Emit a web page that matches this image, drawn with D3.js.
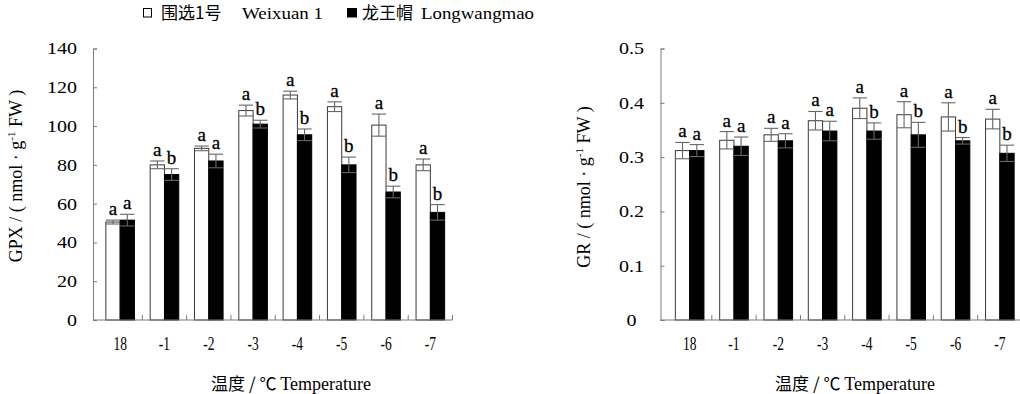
<!DOCTYPE html>
<html>
<head>
<meta charset="utf-8">
<script src="https://cdn.jsdelivr.net/npm/d3@7"></script>
<style>
  html, body { margin: 0; padding: 0; background: #fff; }
  svg { display: block; }
  text { font-family: "Liberation Serif", "Times New Roman", serif; fill: #000; }
  .cjk { font-family: "Noto Sans CJK SC", sans-serif; }
</style>
</head>
<body>
<svg id="chart" width="1020" height="394"></svg>
<script>
// Temperature treatments (°C)
const categories = ["18", "-1", "-2", "-3", "-4", "-5", "-6", "-7"];
const seriesKeys = ["weixuan", "longwangmao"];

// GPX activity, nmol·g-1 FW
const gpxWeixuan        = [50.5, 80, 88.5, 108, 116, 110, 100.5, 80];
const gpxWeixuanErr     = [1, 2, 1.2, 2.8, 2, 2.5, 5.7, 3];
const gpxLongwangmao    = [51.5, 75, 82, 101, 95.5, 80, 66, 55.5];
const gpxLongwangmaoErr = [3, 3, 3.5, 2, 3, 4, 3, 4];
const gpxLettersW = ["a", "a", "a", "a", "a", "a", "a", "a"];
const gpxLettersL = ["a", "b", "a", "b", "b", "b", "b", "b"];
const gpxTicks = [0, 20, 40, 60, 80, 100, 120, 140];

// GR activity, nmol·g-1 FW
const grWeixuan        = [0.312, 0.331, 0.341, 0.367, 0.390, 0.378, 0.374, 0.370];
const grWeixuanErr     = [0.015, 0.016, 0.012, 0.017, 0.019, 0.024, 0.026, 0.018];
const grLongwangmao    = [0.312, 0.320, 0.330, 0.348, 0.348, 0.341, 0.330, 0.307];
const grLongwangmaoErr = [0.011, 0.017, 0.013, 0.018, 0.015, 0.023, 0.006, 0.015];
const grLettersW = ["a", "a", "a", "a", "a", "a", "a", "a"];
const grLettersL = ["a", "a", "a", "a", "b", "b", "b", "b"];
const grTicks = [0, 0.1, 0.2, 0.3, 0.4, 0.5];

const svg = d3.select("#chart");
const AXIS = "#7a7a7a";

function panel(opt) {
  const g = svg.append("g");
  const y = d3.scaleLinear().domain([0, opt.ticks[opt.ticks.length - 1]]).range([320, 48.5]);
  const x = d3.scaleBand().domain(categories).range([opt.x0, opt.x1]).paddingInner(0).paddingOuter(0);
  const xs = d3.scaleBand().domain(seriesKeys).range([0, x.bandwidth()]).paddingInner(0).paddingOuter(0.55);

  const rows = categories.map((c, i) => ({
    c,
    weixuan: { v: opt.w[i], e: opt.we[i], l: opt.lw[i] },
    longwangmao: { v: opt.l[i], e: opt.le[i], l: opt.ll[i] }
  }));

  // bars
  seriesKeys.forEach(k => {
    g.selectAll(null).data(rows).join("rect")
      .attr("x", d => x(d.c) + xs(k))
      .attr("width", xs.bandwidth())
      .attr("y", d => y(d[k].v))
      .attr("height", d => y(0) - y(d[k].v))
      .attr("fill", k === "weixuan" ? "#fff" : "#000")
      .attr("stroke", k === "weixuan" ? "#3a3a3a" : "#000")
      .attr("stroke-width", 1);
  });

  // error bars
  seriesKeys.forEach(k => {
    const eg = g.selectAll(null).data(rows).join("g")
      .attr("stroke", "#666").attr("stroke-width", 1.1);
    eg.append("line")
      .attr("x1", d => x(d.c) + xs(k) + xs.bandwidth() / 2)
      .attr("x2", d => x(d.c) + xs(k) + xs.bandwidth() / 2)
      .attr("y1", d => y(d[k].v - d[k].e))
      .attr("y2", d => y(d[k].v + d[k].e));
    [1, -1].forEach(s => {
      eg.append("line")
        .attr("x1", d => x(d.c) + xs(k))
        .attr("x2", d => x(d.c) + xs(k) + xs.bandwidth())
        .attr("y1", d => y(d[k].v + s * d[k].e))
        .attr("y2", d => y(d[k].v + s * d[k].e));
    });
    // significance letters
    g.selectAll(null).data(rows).join("text")
      .attr("x", d => x(d.c) + xs(k) + xs.bandwidth() / 2)
      .attr("y", d => y(d[k].v + d[k].e) - 5)
      .attr("text-anchor", "middle")
      .attr("font-size", 19)
      .attr("stroke", "#000").attr("stroke-width", 0.3)
      .text(d => d[k].l);
  });

  // y axis
  const ya = g.append("g").attr("transform", `translate(${opt.ax},0)`)
    .call(d3.axisLeft(y).tickValues(opt.ticks).tickSize(-4).tickPadding(opt.labelOff)
      .tickFormat(opt.fmt));
  ya.select(".domain").attr("stroke", AXIS);
  ya.selectAll(".tick line").attr("stroke", AXIS);
  ya.selectAll(".tick text")
    .attr("font-size", 17)
    .attr("font-family", "Liberation Serif, serif")
    .attr("text-anchor", opt.labelAnchor)
    .attr("x", -opt.labelOff / 1.18)
    .attr("transform", "scale(1.18,1)");

  // x axis: labels centred on groups, ticks on group boundaries
  const xa = g.append("g").attr("transform", "translate(0,320)")
    .call(d3.axisBottom(x).tickSize(0).tickPadding(17));
  xa.select(".domain").remove();
  xa.selectAll(".tick text")
    .attr("font-size", 18)
    .attr("font-family", "Liberation Serif, serif")
    .attr("transform", "scale(0.75,1)");
  g.append("line").attr("x1", opt.ax).attr("x2", opt.x1).attr("y1", 320).attr("y2", 320)
    .attr("stroke", AXIS).attr("stroke-width", 1.2);
  g.selectAll(null).data(categories).join("line")
    .attr("x1", c => x(c) + x.bandwidth()).attr("x2", c => x(c) + x.bandwidth())
    .attr("y1", 320).attr("y2", 315)
    .attr("stroke", AXIS);

  // y title
  const yt = g.append("text")
    .attr("transform", `translate(${opt.ytX},${opt.ytY}) rotate(-90)`)
    .attr("text-anchor", "middle")
    .attr("font-size", 18);
  yt.append("tspan").text(opt.yName + " / ( nmol · g");
  yt.append("tspan").attr("font-size", 11).attr("dy", -7).text("-1");
  yt.append("tspan").attr("dy", 7).text(" FW )");

  // x title
  const xt = g.append("text")
    .attr("x", opt.xtX).attr("y", 390)
    .attr("text-anchor", "middle")
    .attr("font-size", 18);
  xt.append("tspan").attr("class", "cjk").attr("font-size", 17).text("温度 / ℃ ");
  xt.append("tspan").text("Temperature");
}

panel({
  ticks: gpxTicks, w: gpxWeixuan, we: gpxWeixuanErr, l: gpxLongwangmao, le: gpxLongwangmaoErr,
  lw: gpxLettersW, ll: gpxLettersL,
  x0: 98, x1: 452.5, ax: 93, labelOff: 16, labelAnchor: "end",
  fmt: d3.format("d"), yName: "GPX", ytX: 22, ytY: 176, xtX: 291
});

panel({
  ticks: grTicks, w: grWeixuan, we: grWeixuanErr, l: grLongwangmao, le: grLongwangmaoErr,
  lw: grLettersW, ll: grLettersL,
  x0: 667.5, x1: 1022, ax: 660.5, labelOff: 29, labelAnchor: "middle",
  fmt: d => d === 0 ? "0" : d3.format(".1f")(d), yName: "GR", ytX: 590, ytY: 187, xtX: 855
});

// legend
const legend = svg.append("g");
legend.append("rect").attr("x", 143.5).attr("y", 8.5).attr("width", 8).attr("height", 8.5)
  .attr("fill", "#fff").attr("stroke", "#000").attr("stroke-width", 1);
legend.append("text").attr("class", "cjk").attr("x", 161).attr("y", 19).attr("font-size", 17).text("围选1号");
legend.append("text").attr("x", 242).attr("y", 18.5).attr("font-size", 17)
  .attr("textLength", 81).attr("lengthAdjust", "spacingAndGlyphs").text("Weixuan 1");
legend.append("rect").attr("x", 347).attr("y", 8).attr("width", 10).attr("height", 9.5).attr("fill", "#000");
legend.append("text").attr("class", "cjk").attr("x", 362).attr("y", 19).attr("font-size", 17).text("龙王帽");
legend.append("text").attr("x", 421).attr("y", 18.5).attr("font-size", 17)
  .attr("textLength", 113).attr("lengthAdjust", "spacingAndGlyphs").text("Longwangmao");
</script>
</body>
</html>
